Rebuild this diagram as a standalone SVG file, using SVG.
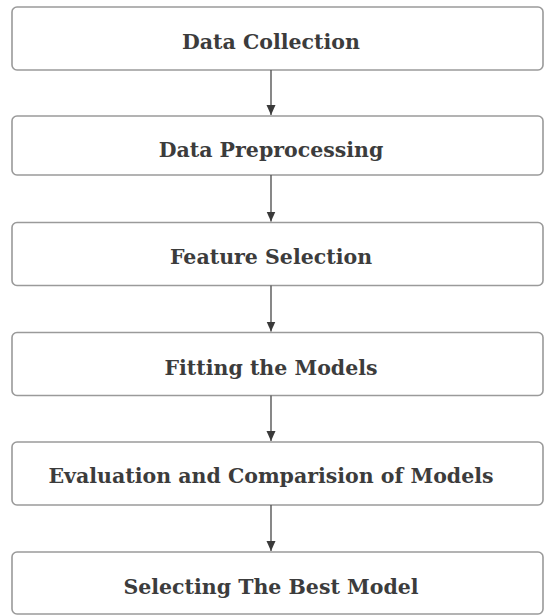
<svg xmlns="http://www.w3.org/2000/svg" width="546" height="616" viewBox="0 0 546 616">
<style>
.box{fill:#ffffff;stroke:#9a9a9a;stroke-width:1.6}
.lbl{font-family:"DejaVu Serif","Liberation Serif",serif;font-weight:bold;font-size:20.5px;fill:#3c3c3c;text-anchor:middle}
.conn{stroke:#555555;stroke-width:1.4;fill:none}
</style>
<defs>
<marker id="ah" viewBox="0 0 10 10" refX="10" refY="5" markerWidth="10" markerHeight="10" markerUnits="userSpaceOnUse" orient="auto">
<path d="M0,0.5 L10,5 L0,9.5 Z" fill="#3a3a3a"/>
</marker>
</defs>
<rect width="546" height="616" fill="#ffffff"/>
<g id="n1"><rect class="box" x="12" y="7" width="531" height="63" rx="5"/><text class="lbl" x="271" y="49">Data Collection</text></g>
<g id="n2"><rect class="box" x="12" y="116" width="531" height="59" rx="5"/><text class="lbl" x="271" y="157">Data Preprocessing</text></g>
<g id="n3"><rect class="box" x="12" y="222.5" width="531" height="63" rx="5"/><text class="lbl" x="271" y="263.5">Feature Selection</text></g>
<g id="n4"><rect class="box" x="12" y="332.5" width="531" height="63" rx="5"/><text class="lbl" x="271" y="374.5">Fitting the Models</text></g>
<g id="n5"><rect class="box" x="12" y="442" width="531" height="63" rx="5"/><text class="lbl" x="271" y="483">Evaluation and Comparision of Models</text></g>
<g id="n6"><rect class="box" x="12" y="552" width="531" height="62" rx="5"/><text class="lbl" x="271" y="593.5">Selecting The Best Model</text></g>
<g id="connectors">
<line class="conn" x1="271" y1="70" x2="271" y2="115" marker-end="url(#ah)"/>
<line class="conn" x1="271" y1="175" x2="271" y2="221.5" marker-end="url(#ah)"/>
<line class="conn" x1="271" y1="285.5" x2="271" y2="331.5" marker-end="url(#ah)"/>
<line class="conn" x1="271" y1="395.5" x2="271" y2="441" marker-end="url(#ah)"/>
<line class="conn" x1="271" y1="505" x2="271" y2="551" marker-end="url(#ah)"/>
</g>
</svg>
